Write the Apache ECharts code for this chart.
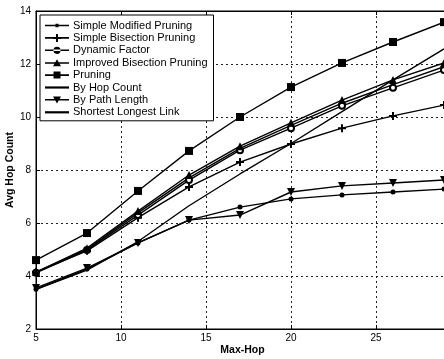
<!DOCTYPE html>
<html>
<head>
<meta charset="utf-8">
<script src="https://cdn.jsdelivr.net/npm/echarts@6/dist/echarts.min.js"></script>
<style>
  html, body { margin: 0; padding: 0; background: #fff; }
  #chart { width: 444px; height: 359px; }
</style>
</head>
<body>
<div id="chart"></div>
<script>
// Max-hop limits on the x axis
const maxHop = [5, 8, 11, 14, 17, 20, 23, 26, 29];

// Average hop count per routing strategy
const simpleModifiedPruning    = [4.15, 5.00, 6.38, 7.70, 8.82, 9.68, 10.52, 11.22, 11.90];
const simpleBisectionPruning   = [4.15, 4.95, 6.20, 7.36, 8.30, 8.98, 9.58, 10.04, 10.45];
const dynamicFactor            = [4.12, 4.98, 6.30, 7.62, 8.75, 9.58, 10.42, 11.10, 11.77];
const improvedBisectionPruning = [4.15, 5.05, 6.45, 7.81, 8.90, 9.78, 10.64, 11.40, 12.04];
const pruning                  = [4.60, 5.62, 7.21, 8.72, 10.00, 11.13, 12.04, 12.83, 13.58];
const byHopCount               = [3.50, 4.26, 5.25, 6.11, 6.60, 6.91, 7.06, 7.17, 7.28];
const byPathLength             = [3.55, 4.30, 5.25, 6.11, 6.30, 7.17, 7.40, 7.51, 7.62];
const shortestLongestLink      = [3.50, 4.22, 5.30, 6.65, 7.85, 9.00, 10.20, 11.40, 12.57];

const xTicks = { min: 5, max: 30, interval: 5 };
const yTicks = { min: 2, max: 14, interval: 2 };

const seriesNames = [
  'Simple Modified Pruning',
  'Simple Bisection Pruning',
  'Dynamic Factor',
  'Improved Bisection Pruning',
  'Pruning',
  'By Hop Count',
  'By Path Length',
  'Shortest Longest Link'
];
const seriesValues = [
  simpleModifiedPruning,
  simpleBisectionPruning,
  dynamicFactor,
  improvedBisectionPruning,
  pruning,
  byHopCount,
  byPathLength,
  shortestLongestLink
];

const PLUS = 'path://M3,0h2v8h-2zM0,3h8v2h-8z';
const TRI_DOWN = 'path://M0,0L10,0L5,9z';
const markers = [
  { symbol: 'circle', size: 4 },
  { symbol: PLUS, size: 8 },
  { symbol: 'emptyCircle', size: 6 },
  { symbol: 'triangle', size: 8 },
  { symbol: 'rect', size: 8 },
  { symbol: 'circle', size: 5 },
  { symbol: TRI_DOWN, size: 8 },
  { symbol: 'none', size: 0 }
];

// legend swatches: a short line with the series marker on it
const LINE_ONLY = 'path://M0,4h24v2.2h-24z';
const legendIcons = [
  'path://M0,4h24v1.6h-24zM10.5,3h3v3.6h-3z',
  'path://M0,4h24v1.6h-24zM11,0.8h2v8h-2zM8,3.8h8v2h-8z',
  'path://M0,4h24v1.6h-24zM12,1.2a3.6,3.6 0 1,0 0.01,0z',
  'path://M0,4h24v1.6h-24zM12,1L16,8H8z',
  'path://M0,4h24v1.6h-24zM8.5,1.3h7v7h-7z',
  LINE_ONLY,
  'path://M0,4h24v1.6h-24zM8,1.5h8L12,8.5z',
  LINE_ONLY
];

const font = 'Liberation Sans, Arial, Helvetica, sans-serif';

const chart = echarts.init(document.getElementById('chart'), null, { renderer: 'canvas' });

const series = seriesNames.map((name, i) => ({
  name: name,
  type: 'line',
  xAxisIndex: 0,
  yAxisIndex: 0,
  data: maxHop.map((x, j) => [x, seriesValues[i][j]]),
  symbol: markers[i].symbol,
  symbolSize: markers[i].size,
  showSymbol: markers[i].symbol !== 'none',
  lineStyle: { color: '#000', width: 1.4 },
  itemStyle: { color: '#000', borderColor: '#000', borderWidth: markers[i].symbol === 'emptyCircle' ? 1.5 : 0 },
  emphasis: { disabled: true },
  animation: false,
  z: 3
}));

const gridLine = { show: true, lineStyle: { color: '#222', width: 1, type: [2, 3] } };

chart.setOption({
  backgroundColor: '#fff',
  animation: false,
  textStyle: { fontFamily: font, color: '#000' },
  grid: {
    left: 36, top: 11, width: 425, height: 318,
    containLabel: false,
    outerBoundsMode: 'none',
    show: true, borderColor: '#000', borderWidth: 1, backgroundColor: 'transparent'
  },
  legend: {
    orient: 'vertical',
    left: 40, top: 15,
    padding: [5, 6, 3, 5],
    itemGap: 1.4,
    itemWidth: 24,
    itemHeight: 10,
    backgroundColor: '#fff',
    borderColor: '#000',
    borderWidth: 1,
    borderRadius: 0,
    textStyle: { fontFamily: font, fontSize: 11, color: '#000', padding: [0, 0, 0, -1] },
    data: seriesNames.map((n, i) => ({ name: n, icon: legendIcons[i], itemStyle: { color: '#000', borderWidth: 0 } })),
    z: 10
  },
  xAxis: [{
    type: 'value',
    position: 'bottom',
    min: xTicks.min, max: xTicks.max, interval: xTicks.interval,
    name: 'Max-Hop',
    nameLocation: 'middle',
    nameGap: 16,
    nameMoveOverlap: false,
    nameTextStyle: { fontFamily: font, fontSize: 10.5, fontWeight: 'bold', color: '#000', padding: [0, 12, 0, 0] },
    axisLine: { show: true, onZero: false, lineStyle: { color: '#000', width: 1 } },
    axisTick: { show: true, inside: true, length: 4, lineStyle: { color: '#000' } },
    axisLabel: { fontFamily: font, fontSize: 10, color: '#000', margin: 4 },
    splitLine: gridLine
  }, {
    type: 'value',
    position: 'top',
    min: xTicks.min, max: xTicks.max, interval: xTicks.interval,
    axisLine: { show: true, onZero: false, lineStyle: { color: '#000', width: 1 } },
    axisTick: { show: true, inside: true, length: 4, lineStyle: { color: '#000' } },
    axisLabel: { show: false },
    splitLine: { show: false }
  }],
  yAxis: [{
    type: 'value',
    min: yTicks.min, max: yTicks.max, interval: yTicks.interval,
    name: 'Avg Hop Count',
    nameLocation: 'middle',
    nameGap: 20,
    nameMoveOverlap: false,
    nameRotate: 90,
    nameTextStyle: { fontFamily: font, fontSize: 10.5, fontWeight: 'bold', color: '#000' },
    axisLine: { show: true, onZero: false, lineStyle: { color: '#000', width: 1 } },
    axisTick: { show: true, inside: true, length: 4, lineStyle: { color: '#000' } },
    axisLabel: { fontFamily: font, fontSize: 10, color: '#000', margin: 5 },
    splitLine: gridLine
  }],
  series: series
});
</script>
</body>
</html>
